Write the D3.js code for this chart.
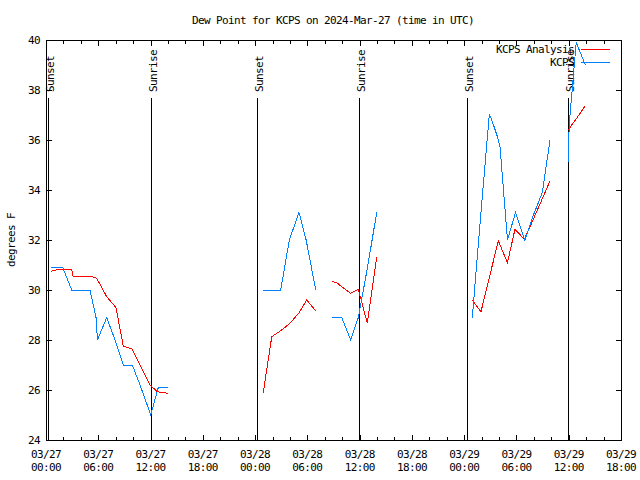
<!DOCTYPE html>
<html><head><meta charset="utf-8">
<script src="https://cdn.jsdelivr.net/npm/d3@7"></script>
<style>
body{margin:0;background:#fff}
text{font-family:"DejaVu Sans Mono",monospace;font-size:11px;letter-spacing:-0.62px;fill:#000}
</style>
</head><body>
<svg id="c" width="640" height="480"></svg>
<script>
// ---- data (hours since 2024-03-27 00:00 UTC; null = gap) ----
const startTime = Date.UTC(2024, 2, 27, 0, 0);
const endTime = Date.UTC(2024, 2, 29, 18, 0);
const yTicks = [24, 26, 28, 30, 32, 34, 36, 38, 40];
const titleText = "Dew Point for KCPS on 2024-Mar-27 (time in UTC)";
const yLabel = "degrees F";
const seriesNames = ["KCPS Analysis", "KCPS"];

const obsHours = [0.57,1.92,2.95,3.95,5.05,5.74,5.91,6.97,7.92,8.87,9.91,10.9,12.02,12.89,13.97, null,
  24.94,25.94,26.94,27.93,29.04,29.86,30.96, null,
  32.79,33.94,34.97,35.85,36.9,37.96, null,
  48.93,49.9,50.88,51.07,51.85,52.12,52.97,53.89,54.96,55.95,56.97,57.85, null,
  59.95,60.05,60.86,61.9];
const obsValues = [30.9,30.9,30.0,30.0,30.0,28.9,28.0,28.9,28.0,27.0,27.0,26.1,25.0,26.1,26.1, null,
  30.0,30.0,30.0,32.0,33.1,32.0,30.0, null,
  28.9,28.9,28.0,28.9,30.9,33.1, null,
  28.9,33.0,37.0,36.9,36.1,35.7,32.0,33.1,32.0,33.0,33.9,36.0, null,
  35.1,36.6,39.9,39.0];

const anaHours = [0.57,1.61,2.95,3.10,5.05,5.82,6.97,8.03,8.87,9.91,11.94,12.78,13.97, null,
  24.94,25.91,27.05,28.01,29.04,29.92,30.96, null,
  32.79,33.48,33.94,34.97,35.85,36.88,37.96, null,
  48.93,49.93,50.92,51.92,52.97,53.83,54.9,55.9,56.9,57.85, null,
  59.95,60.34,60.92,61.87];
const anaValues = [30.75,30.84,30.84,30.56,30.56,30.47,29.73,29.3,27.76,27.63,26.2,25.93,25.87, null,
  25.9,28.13,28.4,28.67,29.09,29.6,29.17, null,
  30.36,30.27,30.13,29.87,30.03,28.67,31.3, null,
  29.6,29.13,30.55,31.97,31.09,32.43,32.03,32.8,33.6,34.36, null,
  36.4,36.6,36.87,37.36];

const sunNames = ["Sunset","Sunrise","Sunset","Sunrise","Sunset","Sunrise"];
const sunHours = [0.25, 12.02, 24.23, 35.96, 48.34, 59.95];

// ---- drawing ----
const svg = d3.select("#c");
const L = 46, R = 621, T = 40, B = 440;
const H = 3600e3;
const toDate = h => new Date(startTime + h * H);

const x = d3.scaleUtc().domain([new Date(startTime), new Date(endTime)]).range([L, R]);
const y = d3.scaleLinear().domain([24, 40]).range([B, T]);

const g = svg.append("g").attr("shape-rendering", "crispEdges");

// border
g.append("rect").attr("x", L + 0.5).attr("y", T + 0.5).attr("width", R - L).attr("height", B - T)
  .attr("fill", "none").attr("stroke", "#000");

// x ticks
const majorX = d3.utcHour.every(6).range(new Date(startTime), new Date(endTime + 1));
const minorX = d3.utcHour.every(2).range(new Date(startTime), new Date(endTime + 1));
minorX.forEach(d => {
  const px = Math.round(x(d)) + 0.5;
  const len = (d.getUTCHours() % 6 === 0) ? 5 : 3;
  g.append("line").attr("x1", px).attr("x2", px).attr("y1", B).attr("y2", B - len).attr("stroke", "#000");
  g.append("line").attr("x1", px).attr("x2", px).attr("y1", T + 1).attr("y2", T + 1 + len).attr("stroke", "#000");
});
const fmtD = d3.utcFormat("%m/%d"), fmtT = d3.utcFormat("%H:%M");
majorX.forEach(d => {
  const px = x(d);
  svg.append("text").attr("x", px).attr("y", 454).attr("text-anchor", "middle")
    .attr("dominant-baseline", "central").text(fmtD(d));
  svg.append("text").attr("x", px).attr("y", 467).attr("text-anchor", "middle")
    .attr("dominant-baseline", "central").text(fmtT(d));
});

// y ticks
yTicks.forEach(v => {
  const py = Math.round(y(v)) + 0.5;
  g.append("line").attr("x1", L + 1).attr("x2", L + 6).attr("y1", py).attr("y2", py).attr("stroke", "#000");
  g.append("line").attr("x1", R).attr("x2", R - 5).attr("y1", py).attr("y2", py).attr("stroke", "#000");
  svg.append("text").attr("x", 40).attr("y", y(v)).attr("text-anchor", "end")
    .attr("dominant-baseline", "central").text(v);
});

// title & y label
svg.append("text").attr("x", 333).attr("y", 20).attr("text-anchor", "middle")
  .attr("dominant-baseline", "central").text(titleText);
svg.append("text").attr("transform", "translate(11,240) rotate(-90)").attr("text-anchor", "middle")
  .attr("dominant-baseline", "central").text(yLabel);

// sunrise / sunset
sunHours.forEach((h, i) => {
  const px = Math.round(x(toDate(h))) + 0.5;
  g.append("line").attr("x1", px).attr("x2", px).attr("y1", 98).attr("y2", B).attr("stroke", "#000");
  svg.append("text").attr("transform", `translate(${px + 2},92) rotate(-90)`)
    .attr("text-anchor", "start").attr("dominant-baseline", "central").text(sunNames[i]);
});

// data lines
const clip = svg.append("clipPath").attr("id", "pc").append("rect")
  .attr("x", L).attr("y", T).attr("width", R - L + 1).attr("height", B - T + 1);
const line = d3.line().defined(d => d[1] != null).x(d => x(toDate(d[0]))).y(d => y(d[1]));
const anaData = anaHours.map((h, i) => [h, anaValues[i]]);
const obsData = obsHours.map((h, i) => [h, obsValues[i]]);

svg.append("path").attr("d", line(anaData)).attr("fill", "none").attr("stroke", "#ff0000")
  .attr("stroke-width", 1).attr("clip-path", "url(#pc)").attr("shape-rendering", "crispEdges");
svg.append("path").attr("d", line(obsData)).attr("fill", "none").attr("stroke", "#0080ff")
  .attr("stroke-width", 1).attr("clip-path", "url(#pc)").attr("shape-rendering", "crispEdges");

// legend
const legColors = ["#ff0000", "#0080ff"];
seriesNames.forEach((n, i) => {
  const ly = 49 + i * 13;
  svg.append("text").attr("x", 574).attr("y", ly).attr("text-anchor", "end")
    .attr("dominant-baseline", "central").text(n);
  svg.append("line").attr("x1", 581).attr("x2", 610).attr("y1", ly + 0.5).attr("y2", ly + 0.5)
    .attr("stroke", legColors[i]).attr("shape-rendering", "crispEdges");
});
</script>
</body></html>
